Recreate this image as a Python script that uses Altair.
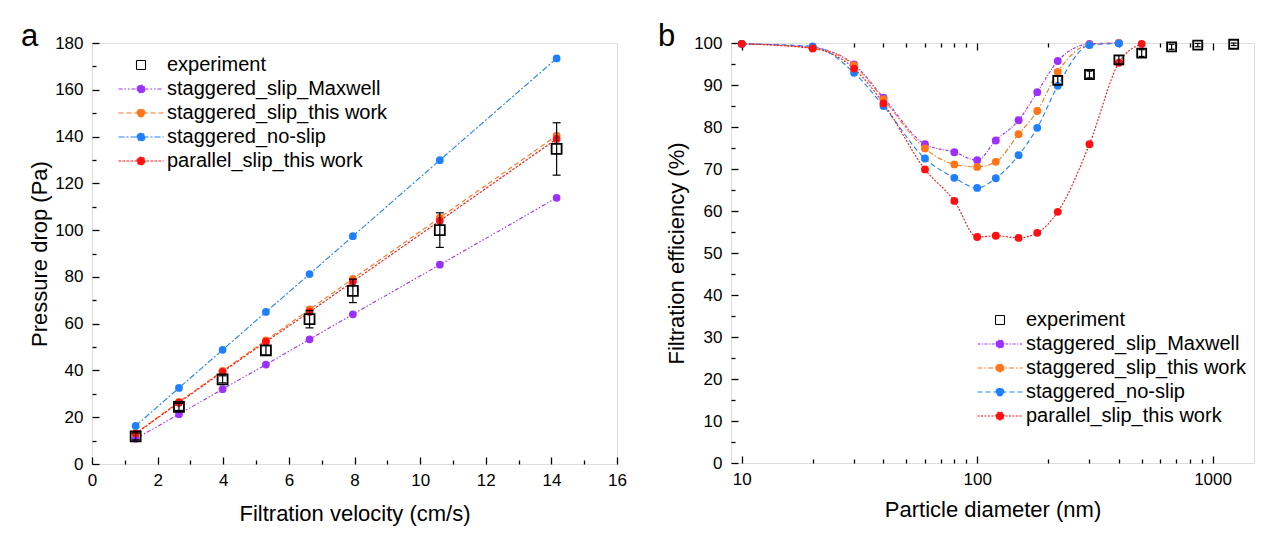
import altair as alt
import pandas as pd

FONT = "Liberation Sans"

# ---------------- panel a : pressure drop vs filtration velocity ----------------
velocity = [1.33, 2.65, 3.98, 5.30, 6.63, 7.95, 10.60, 14.16]
dp_experiment = [11.8, 24.4, 36.2, 48.6, 61.9, 74.0, 100.0, 134.7]
dp_experiment_err = [1.5, 1.5, 1.5, 2.0, 3.7, 5.0, 7.4, 11.2]
dp_staggered_slip_maxwell = [10.8, 21.3, 32.0, 42.5, 53.3, 64.0, 85.2, 113.8]
dp_staggered_slip_this_work = [13.1, 26.6, 39.8, 52.9, 66.1, 79.2, 105.3, 140.4]
dp_staggered_no_slip = [16.3, 32.5, 48.8, 65.0, 81.2, 97.4, 129.9, 173.4]
dp_parallel_slip_this_work = [13.0, 26.2, 39.4, 52.3, 65.0, 78.0, 104.0, 139.0]

# ---------------- panel b : filtration efficiency vs particle diameter ----------------
diameter = [10, 20, 30, 40, 60, 80, 100, 120, 150, 180, 220, 300, 400, 500]
eff_staggered_slip_maxwell = [99.8, 98.9, 94.9, 87.0, 75.9, 74.0, 72.1, 76.8, 81.6, 88.3, 95.7, 99.8, 100.0]
eff_staggered_slip_this_work = [99.8, 98.8, 94.7, 86.6, 74.9, 71.1, 70.5, 71.7, 78.3, 83.8, 93.1, 99.6, 100.0]
eff_staggered_no_slip = [99.8, 99.2, 92.9, 85.0, 72.5, 67.9, 65.5, 67.8, 73.3, 79.8, 89.8, 99.5, 99.9]
eff_parallel_slip_this_work = [99.8, 98.7, 93.9, 85.6, 69.9, 62.4, 53.8, 54.1, 53.6, 54.8, 59.8, 75.9, 95.3, 99.8]
exp_diameter = [220, 300, 400, 500, 670, 865, 1230]
eff_experiment = [91.1, 92.5, 96.0, 97.6, 99.1, 99.5, 99.7]
eff_experiment_err = [1.0, 0.8, 1.0, 0.8, 0.6, 0.4, 0.3]

series_names = ["experiment", "staggered_slip_Maxwell", "staggered_slip_this work",
                "staggered_no-slip", "parallel_slip_this work"]
series_colors = ["#000000", "#9B30FF", "#FF7518", "#1E80FF", "#FF1010"]

# legend symbols: line with a dot, and a hollow square
LINE_DOT = "M-4.5,0H4.5M-0.8,0A0.8,0.8,0,1,1,0.8,0A0.8,0.8,0,1,1,-0.8,0Z"
SQUARE = "M-0.9,-0.9H0.9V0.9H-0.9Z"


def model_frame(xs, ys_list):
    rows = []
    for name, ys in zip(series_names[1:], ys_list):
        for xv, yv in zip(xs, ys):
            rows.append({"x": xv, "y": yv, "series": name})
    return pd.DataFrame(rows)


def exp_frame(xs, ys, errs):
    return pd.DataFrame({"x": xs, "y": ys,
                         "lo": [a - b for a, b in zip(ys, errs)],
                         "hi": [a + b for a, b in zip(ys, errs)]})


def tick_axis(orient, offset, values, size):
    return alt.Axis(orient=orient, offset=offset, values=values, labels=False, domain=False,
                    ticks=True, tickSize=size, tickWidth=1.3, tickColor="black",
                    title=None, grid=False)


def panel(mdf, edf, x_scale, y_scale, x_axis, y_axis, dash_range, W, H,
          x_major, x_minor, y_major, y_minor, top_ticks, legend_x, legend_y,
          interp, label, title_dx, circle_size, square_size, cap):
    fill_scale = alt.Scale(domain=series_names, range=["transparent"] + series_colors[1:])
    stroke_scale = alt.Scale(domain=series_names, range=series_colors)
    shape_scale = alt.Scale(domain=series_names, range=[SQUARE] + [LINE_DOT] * 4)
    dash_scale = alt.Scale(domain=series_names, range=dash_range)
    legend = alt.Legend(orient="none", legendX=legend_x, legendY=legend_y, title=None,
                        labelFont=FONT, labelFontSize=20, labelColor="black",
                        symbolSize=100, symbolStrokeWidth=1.1, labelOffset=16,
                        rowPadding=4, padding=0, labelLimit=500)
    X = alt.X("x:Q", scale=x_scale, axis=None)
    Y = alt.Y("y:Q", scale=y_scale, axis=None)

    legend_layer = alt.Chart(mdf).transform_filter("false").mark_point(opacity=1).encode(
        X, Y,
        fill=alt.Fill("series:N", scale=fill_scale, legend=legend),
        stroke=alt.Stroke("series:N", scale=stroke_scale, legend=legend),
        shape=alt.Shape("series:N", scale=shape_scale, legend=legend),
        strokeDash=alt.StrokeDash("series:N", scale=dash_scale, legend=legend),
    )
    axes_main = alt.Chart(edf).mark_point(opacity=0).encode(
        alt.X("x:Q", scale=x_scale, axis=x_axis),
        alt.Y("y:Q", scale=y_scale, axis=y_axis),
    )
    ticks_major = alt.Chart(edf).mark_point(opacity=0).encode(
        alt.X("x:Q", scale=x_scale, axis=tick_axis("top", -H, x_major, 7)),
        alt.Y("y:Q", scale=y_scale, axis=tick_axis("right", -W, y_major, 7)),
    )
    ticks_minor = alt.Chart(edf).mark_point(opacity=0).encode(
        alt.X("x:Q", scale=x_scale, axis=tick_axis("top", -H, x_minor, 4)),
        alt.Y("y:Q", scale=y_scale, axis=tick_axis("right", -W, y_minor, 4)),
    )
    lines = alt.Chart(mdf).mark_line(strokeWidth=1.1, interpolate=interp).encode(
        X, Y,
        stroke=alt.Stroke("series:N", scale=stroke_scale, legend=None),
        strokeDash=alt.StrokeDash("series:N", scale=dash_scale, legend=None),
    )
    circles = alt.Chart(mdf).mark_circle(size=circle_size, opacity=1).encode(
        X, Y, fill=alt.Fill("series:N", scale=fill_scale, legend=None),
    )
    err = alt.Chart(edf).mark_rule(color="black", strokeWidth=1.2).encode(
        X, alt.Y("lo:Q", scale=y_scale, axis=None), y2="hi:Q")
    cap_lo = alt.Chart(edf).mark_tick(orient="horizontal", size=cap, thickness=1.2,
                                      color="black", opacity=1).encode(
        X, alt.Y("lo:Q", scale=y_scale, axis=None))
    cap_hi = alt.Chart(edf).mark_tick(orient="horizontal", size=cap, thickness=1.2,
                                      color="black", opacity=1).encode(
        X, alt.Y("hi:Q", scale=y_scale, axis=None))
    squares = alt.Chart(edf).mark_point(shape="square", size=square_size, filled=False,
                                        color="black", strokeWidth=1.8, opacity=1).encode(X, Y)

    layers = [legend_layer, axes_main, ticks_major, ticks_minor]
    if top_ticks:
        layers.append(alt.Chart(edf).mark_point(opacity=0).encode(
            alt.X("x:Q", scale=x_scale, axis=tick_axis("bottom", -H, x_major, 7)),
            alt.Y("y:Q", scale=y_scale, axis=None)))
        layers.append(alt.Chart(edf).mark_point(opacity=0).encode(
            alt.X("x:Q", scale=x_scale, axis=tick_axis("bottom", -H, x_minor, 4)),
            alt.Y("y:Q", scale=y_scale, axis=None)))
    layers += [lines, circles, err, cap_lo, cap_hi, squares]
    return alt.layer(*layers).properties(
        width=W, height=H,
        title=alt.TitleParams(text=label, anchor="start", frame="group", fontSize=31,
                              font=FONT, fontWeight="normal", color="black",
                              baseline="alphabetic", offset=-30.5, dx=title_dx, dy=12),
    )


axis_common = dict(labelFont=FONT, labelFontSize=17, labelColor="black", titleFont=FONT,
                   titleFontSize=22, titleFontWeight="normal", titleColor="black",
                   domain=False, ticks=False, grid=False, labelFlush=False)

# ----- panel a -----
mdf_a = model_frame(velocity, [dp_staggered_slip_maxwell, dp_staggered_slip_this_work,
                               dp_staggered_no_slip, dp_parallel_slip_this_work])
edf_a = exp_frame(velocity, dp_experiment, dp_experiment_err)
chart_a = panel(
    mdf_a, edf_a,
    alt.Scale(domain=[0, 16], nice=False, zero=False),
    alt.Scale(domain=[0, 180], nice=False, zero=False),
    alt.Axis(orient="bottom", values=list(range(0, 17, 2)), title="Filtration velocity (cm/s)",
             labelPadding=8.5, titlePadding=15, **axis_common),
    alt.Axis(orient="left", values=list(range(0, 181, 20)), title="Pressure drop (Pa)",
             labelPadding=9, titlePadding=3, **axis_common),
    [[1, 0], [4, 2, 1.5, 2, 1.5, 2], [5, 3], [6, 2, 2, 2], [2.5, 1.5]],
    525, 421,
    list(range(0, 17, 2)), list(range(1, 16, 2)),
    list(range(0, 181, 20)), list(range(10, 180, 20)),
    False, 39, 12, "linear", "a", -71, 60, 100, 8,
)

# ----- panel b -----
mdf_b = model_frame(diameter, [eff_staggered_slip_maxwell, eff_staggered_slip_this_work,
                               eff_staggered_no_slip, eff_parallel_slip_this_work])
edf_b = exp_frame(exp_diameter, eff_experiment, eff_experiment_err)
chart_b = panel(
    mdf_b, edf_b,
    alt.Scale(type="log", domain=[9, 1500], nice=False),
    alt.Scale(domain=[0, 100], nice=False, zero=False),
    alt.Axis(orient="bottom", values=[10, 100, 1000], format="d", title="Particle diameter (nm)",
             labelPadding=8.5, titlePadding=12, **axis_common),
    alt.Axis(orient="left", values=list(range(0, 101, 10)), title="Filtration efficiency (%)",
             labelPadding=9, titlePadding=5, **axis_common),
    [[1, 0], [3, 1.5, 1, 1.5], [5, 2, 1.5, 2], [5, 3], [2, 1.5]],
    523, 420,
    [10, 100, 1000], [20, 30, 40, 50, 60, 70, 80, 90, 200, 300, 400, 500, 600, 700, 800, 900],
    list(range(0, 101, 10)), list(range(5, 100, 10)),
    True, 259, 267, "monotone", "b", -73, 62, 81, 6,
)

chart = alt.hconcat(chart_a, chart_b, spacing=30).resolve_scale(
    fill="independent", stroke="independent", shape="independent", strokeDash="independent"
).properties(
    padding={"left": 12, "top": 12, "right": 5, "bottom": 2}
).configure_view(stroke="black", strokeWidth=1.5).configure(background="white")

chart.save("out.html", embed_options={"renderer": "svg", "actions": False})
